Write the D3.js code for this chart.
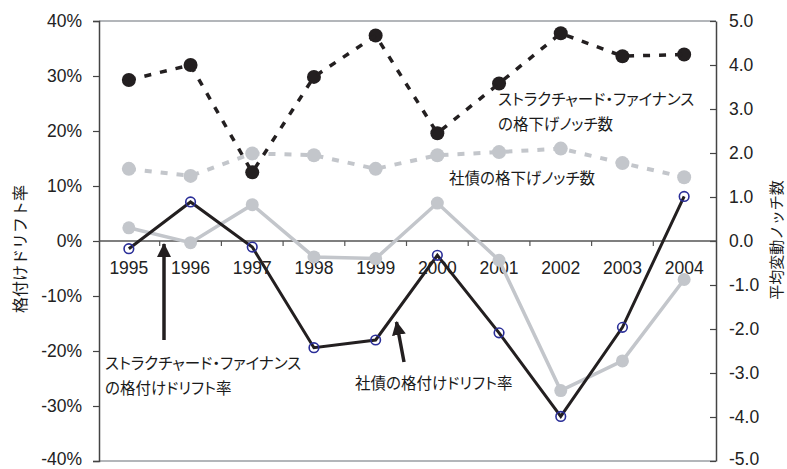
<!DOCTYPE html>
<html lang="ja">
<head>
<meta charset="UTF-8">
<title>格付けドリフト率と平均変動ノッチ数</title>
<script src="https://d3js.org/d3.v7.min.js"></script>
<style>
  body { margin: 0; background: #fff; }
  .tick text { font-family: "Liberation Sans Narrow", "Liberation Sans", Arial, sans-serif; font-size: 17.5px; fill: #222; }
  .jp { font-family: "Noto Sans CJK JP", sans-serif; fill: #1a1a1a; }
  .lbl { font-feature-settings: "palt"; }
</style>
</head>
<body>
<script>
// data
var years = ["1995","1996","1997","1998","1999","2000","2001","2002","2003","2004"];
var sfDrift   = [-0.014, 0.071, -0.011, -0.194, -0.180, -0.026, -0.167, -0.319, -0.157, 0.081];
var corpDrift = [0.024, -0.003, 0.066, -0.029, -0.032, 0.069, -0.035, -0.272, -0.218, -0.070];
var sfNotch   = [3.66, 4.00, 1.56, 3.73, 4.67, 2.45, 3.58, 4.72, 4.20, 4.24];
var corpNotch = [1.64, 1.48, 1.99, 1.95, 1.64, 1.95, 2.02, 2.10, 1.77, 1.45];
var leftTicks  = [-0.4, -0.3, -0.2, -0.1, 0, 0.1, 0.2, 0.3, 0.4];
var rightTicks = [-5, -4, -3, -2, -1, 0, 1, 2, 3, 4, 5];

var W = 787, H = 469;
var plotL = 99, plotR = 716, plotT = 21, plotB = 461;

var svg = d3.select("body").append("svg")
    .attr("width", W).attr("height", H);

var x  = d3.scaleBand().domain(years).range([plotL - 1, plotR - 1]);
var yL = d3.scaleLinear().domain([-0.4, 0.4]).range([plotB, plotT]);
var yR = d3.scaleLinear().domain([-5, 5]).range([plotB, plotT]);
var cx = function(i) { return x(years[i]) + x.bandwidth() / 2; };

// frame lines top / bottom
svg.append("line").attr("x1", plotL).attr("x2", plotR).attr("y1", plotT).attr("y2", plotT)
    .attr("stroke", "#9a9ea3").attr("stroke-width", 1.5);
svg.append("line").attr("x1", plotL).attr("x2", plotR).attr("y1", plotB).attr("y2", plotB)
    .attr("stroke", "#9a9ea3").attr("stroke-width", 1.5);

// left axis
var gL = svg.append("g").attr("transform", "translate(" + plotL + ",0)")
    .call(d3.axisLeft(yL).tickValues(leftTicks).tickSize(6).tickPadding(11)
      .tickFormat(function(d) { return Math.round(d * 100) + "%"; }));
// right axis, ticks point inward
var gR = svg.append("g").attr("transform", "translate(" + plotR + ",0)")
    .call(d3.axisRight(yR).tickValues(rightTicks).tickSizeInner(-6).tickSizeOuter(0).tickPadding(13)
      .tickFormat(function(d) { return d.toFixed(1); }));
[gL, gR].forEach(function(g) {
  g.select(".domain").attr("stroke", "#444").attr("stroke-width", 1.5);
  g.selectAll(".tick line").attr("stroke", "#444").attr("stroke-width", 1.2);
});
// keep the bottom labels inside the picture
gL.selectAll(".tick text").filter(function(d) { return d === -0.4; }).attr("dy", "0.22em");
gR.selectAll(".tick text").filter(function(d) { return d === -5; }).attr("dy", "0.22em");

// category axis on the zero line
var gX = svg.append("g").attr("transform", "translate(0," + yL(0) + ")")
    .call(d3.axisBottom(x).tickSize(0).tickPadding(21));
gX.select(".domain").remove();
svg.append("line").attr("x1", plotL).attr("x2", plotR).attr("y1", yL(0)).attr("y2", yL(0))
    .attr("stroke", "#555").attr("stroke-width", 1.3);
svg.selectAll(".bnd").data(years.slice(1)).enter().append("line")
    .attr("x1", function(d) { return x(d); }).attr("x2", function(d) { return x(d); })
    .attr("y1", yL(0)).attr("y2", yL(0) + 5)
    .attr("stroke", "#555").attr("stroke-width", 1.2);

var grey = "#c3c6cb", black = "#231f20", blue = "#2a2e98";

var lineR = d3.line().x(function(d, i) { return cx(i); }).y(function(d) { return yR(d); });
var lineL = d3.line().x(function(d, i) { return cx(i); }).y(function(d) { return yL(d); });

// corporate downgrade notches (dashed grey)
svg.append("path").datum(corpNotch).attr("d", lineR)
    .attr("fill", "none").attr("stroke", grey).attr("stroke-width", 4).attr("stroke-dasharray", "7,9");
svg.selectAll(".cn").data(corpNotch).enter().append("circle")
    .attr("cx", function(d, i) { return cx(i); }).attr("cy", function(d) { return yR(d); })
    .attr("r", 7).attr("fill", grey);

// corporate drift (solid grey)
svg.append("path").datum(corpDrift).attr("d", lineL)
    .attr("fill", "none").attr("stroke", grey).attr("stroke-width", 3.5);
svg.selectAll(".cd").data(corpDrift).enter().append("circle")
    .attr("cx", function(d, i) { return cx(i); }).attr("cy", function(d) { return yL(d); })
    .attr("r", 6.5).attr("fill", grey);

// structured finance downgrade notches (dashed black)
svg.selectAll(".sn").data(sfNotch).enter().append("circle")
    .attr("cx", function(d, i) { return cx(i); }).attr("cy", function(d) { return yR(d); })
    .attr("r", 7).attr("fill", black);
svg.append("path").datum(sfNotch).attr("d", lineR)
    .attr("fill", "none").attr("stroke", black).attr("stroke-width", 3.5).attr("stroke-dasharray", "7,9");

// structured finance drift (solid black, open blue circles)
svg.append("path").datum(sfDrift).attr("d", lineL)
    .attr("fill", "none").attr("stroke", black).attr("stroke-width", 3);
svg.selectAll(".sd").data(sfDrift).enter().append("circle")
    .attr("cx", function(d, i) { return cx(i); }).attr("cy", function(d) { return yL(d); })
    .attr("r", 4.8).attr("fill", "none").attr("stroke", blue).attr("stroke-width", 1.6);

// arrows
svg.append("defs").append("marker")
    .attr("id", "ah").attr("markerUnits", "userSpaceOnUse")
    .attr("viewBox", "0 0 14 14").attr("refX", 13).attr("refY", 7)
    .attr("markerWidth", 14).attr("markerHeight", 14).attr("orient", "auto")
  .append("path").attr("d", "M0,0 L14,7 L0,14 Z").attr("fill", black);

svg.append("line").attr("x1", 164).attr("y1", 340).attr("x2", 164).attr("y2", 244)
    .attr("stroke", black).attr("stroke-width", 3.5).attr("marker-end", "url(#ah)");
svg.append("line").attr("x1", 404).attr("y1", 362).attr("x2", 396.5).attr("y2", 322)
    .attr("stroke", black).attr("stroke-width", 3.5).attr("marker-end", "url(#ah)");

// labels
function label(xp, ys, lines) {
  var t = svg.append("text").attr("class", "jp lbl").attr("font-size", 15.5);
  lines.forEach(function(s, i) {
    t.append("tspan").attr("x", xp).attr("y", ys[i]).text(s);
  });
}
label(105, [369, 394], ["ストラクチャード・ファイナンス", "の格付けドリフト率"]);
label(355, [389], ["社債の格付けドリフト率"]);
label(498, [105, 130], ["ストラクチャード・ファイナンス", "の格下げノッチ数"]);
label(449, [184], ["社債の格下げノッチ数"]);

// axis titles
svg.append("text").attr("class", "jp").attr("font-size", 16)
    .attr("transform", "translate(26,249) rotate(-90)").attr("text-anchor", "middle")
    .text("格付けドリフト率");
svg.append("text").attr("class", "jp").attr("font-size", 15)
    .attr("transform", "translate(782,240) rotate(-90)").attr("text-anchor", "middle")
    .text("平均変動ノッチ数");
</script>
</body>
</html>
